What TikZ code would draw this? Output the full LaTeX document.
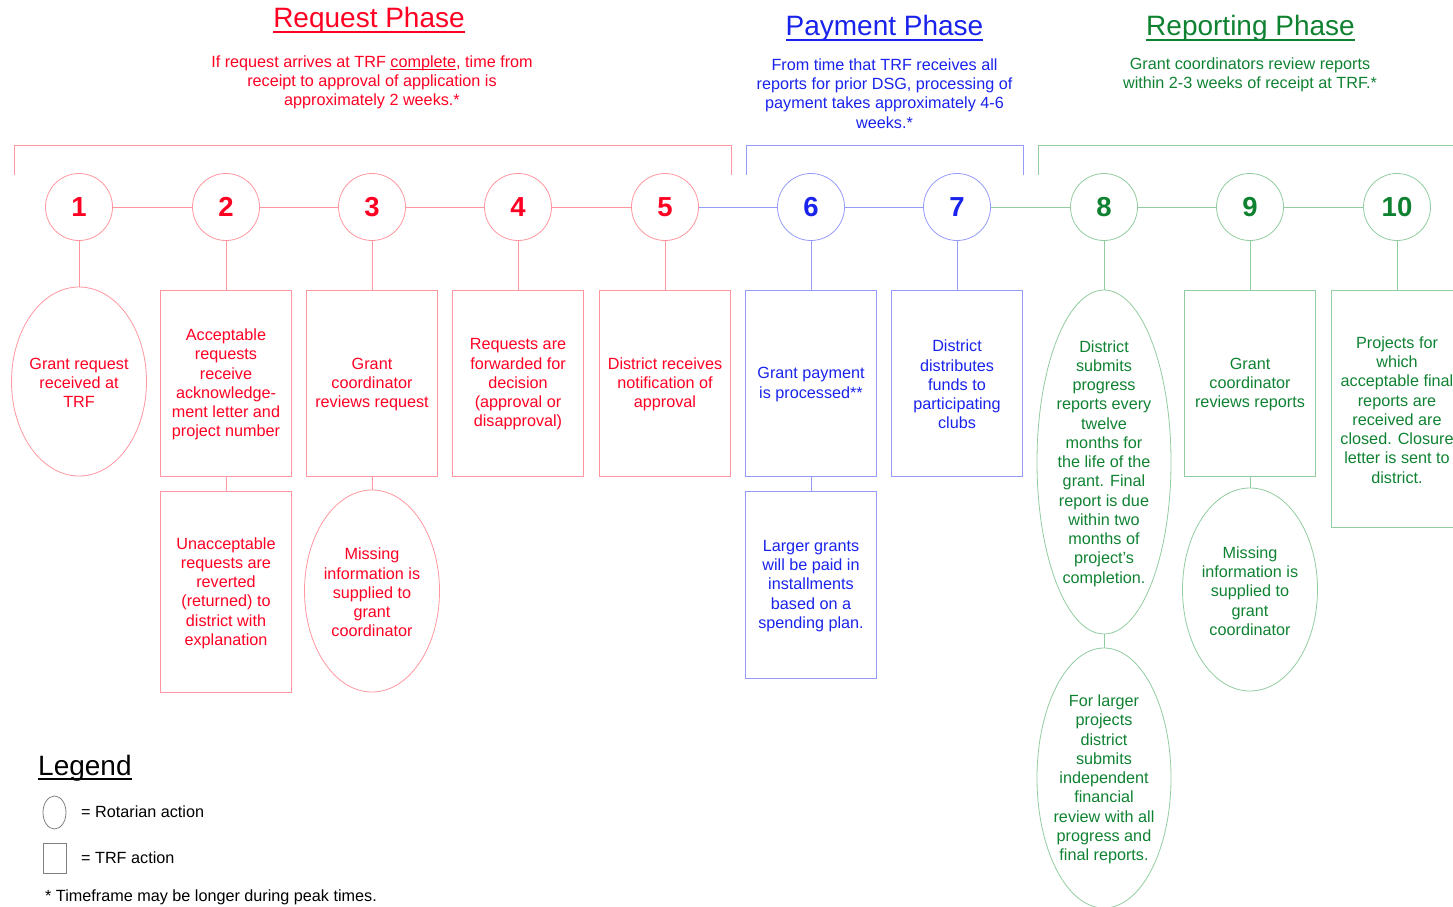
\documentclass[tikz,border=0pt]{standalone}
\usepackage{fontspec}
\setmainfont{Liberation Sans}
\usetikzlibrary{shapes.geometric}
\newcommand\myul[1]{\setbox0=\hbox{#1}\leavevmode\rlap{\vrule height -0.1em depth 0.17em width \wd0}\box0}
\definecolor{rtxt}{RGB}{255,0,35}
\definecolor{rln}{RGB}{255,150,160}
\definecolor{btxt}{RGB}{25,35,235}
\definecolor{bln}{RGB}{150,155,250}
\definecolor{gtxt}{RGB}{15,130,50}
\definecolor{gln}{RGB}{145,205,160}
\tikzset{
  body/.style={font=\fontsize{16.2}{19.25}\selectfont, align=center, inner sep=0pt},
  stxt/.style={body, yshift=-1.5pt},
  numc/.style={circle, draw, fill=white, minimum size=67pt, inner sep=0pt, line width=0.8pt, font=\fontsize{27.5}{30}\selectfont\bfseries},
  trfbox/.style={rectangle, draw, line width=0.8pt, inner sep=0pt, minimum width=131pt},
  rotell/.style={ellipse, draw, line width=0.8pt, inner sep=0pt},
  ttl/.style={font=\fontsize{28}{32}\selectfont, inner sep=0pt, anchor=base},
  conn/.style={line width=0.8pt},
}
\begin{document}
\begin{tikzpicture}[x=1pt,y=-1pt]
\useasboundingbox (0,0) rectangle (1453,907);

% titles
\node[ttl, text=rtxt] (t1) at (369,28) {\myul{Request Phase}};
\node[ttl, text=btxt] (t2) at (884.5,36) {\myul{Payment Phase}};
\node[ttl, text=gtxt] (t3) at (1250.5,36) {\myul{Reporting Phase}};

\node[stxt, text=rtxt] (d1) at (372,81) {If request arrives at TRF \myul{complete}, time from\\receipt to approval of application is\\approximately 2 weeks.*};
\node[stxt, text=btxt] (d2) at (884.5,92) {From time that TRF receives all\\reports for prior DSG, processing of\\payment takes approximately 4-6\\weeks.*};
\node[stxt, text=gtxt] (d3) at (1250,73) {Grant coordinators review reports\\within 2-3 weeks of receipt at TRF.*};

% brackets
\draw[conn, rln] (14,175) -- (14,145) -- (731,145) -- (731,175);
\draw[conn, bln] (746,175) -- (746,145) -- (1023,145) -- (1023,175);
\draw[conn, gln] (1038,175) -- (1038,145) -- (1460,145);

% circles
\node[numc, draw=rln, text=rtxt] (c1) at (79,207) {1};
\node[numc, draw=rln, text=rtxt] (c2) at (226,207) {2};
\node[numc, draw=rln, text=rtxt] (c3) at (372,207) {3};
\node[numc, draw=rln, text=rtxt] (c4) at (518,207) {4};
\node[numc, draw=rln, text=rtxt] (c5) at (665,207) {5};
\node[numc, draw=bln, text=btxt] (c6) at (811,207) {6};
\node[numc, draw=bln, text=btxt] (c7) at (957,207) {7};
\node[numc, draw=gln, text=gtxt] (c8) at (1104,207) {8};
\node[numc, draw=gln, text=gtxt] (c9) at (1250,207) {9};
\node[numc, draw=gln, text=gtxt] (c10) at (1397,207) {10};

% row 1 shapes
\node[rotell, draw=rln, minimum width=135pt, minimum height=189pt] (s1) at (79,381.5) {};
\node[stxt, text=rtxt] (s1t) at (s1) {Grant request\\received at\\TRF};
\node[trfbox, draw=rln, minimum height=186pt] (s2) at (226,383) {};
\node[stxt, text=rtxt] (s2t) at (s2) {Acceptable\\requests\\receive\\acknowledge-\\ment letter and\\project number};
\node[trfbox, draw=rln, minimum height=186pt] (s3) at (372,383) {};
\node[stxt, text=rtxt] (s3t) at (s3) {Grant\\coordinator\\reviews request};
\node[trfbox, draw=rln, minimum height=186pt] (s4) at (518,383) {};
\node[stxt, text=rtxt] (s4t) at (s4) {Requests are\\forwarded for\\decision\\(approval or\\disapproval)};
\node[trfbox, draw=rln, minimum height=186pt] (s5) at (665,383) {};
\node[stxt, text=rtxt] (s5t) at (s5) {District receives\\notification of\\approval};
\node[trfbox, draw=bln, minimum height=186pt] (s6) at (811,383) {};
\node[stxt, text=btxt] (s6t) at (s6) {Grant payment\\is processed**};
\node[trfbox, draw=bln, minimum height=186pt] (s7) at (957,383) {};
\node[stxt, text=btxt] (s7t) at (s7) {District\\distributes\\funds to\\participating\\clubs};
\node[rotell, draw=gln, minimum width=134pt, minimum height=344pt] (s8) at (1104,462) {};
\node[stxt, text=gtxt] (s8t) at (s8) {District\\submits\\progress\\reports every\\twelve\\months for\\the life of the\\grant. Final\\report is due\\within two\\months of\\project's\\completion.};
\node[trfbox, draw=gln, minimum height=186pt] (s9) at (1250,383) {};
\node[stxt, text=gtxt] (s9t) at (s9) {Grant\\coordinator\\reviews reports};
\node[trfbox, draw=gln, minimum height=237pt] (s10) at (1397,408.5) {};
\node[stxt, text=gtxt] (s10t) at (s10) {Projects for\\which\\acceptable final\\reports are\\received are\\closed. Closure\\letter is sent to\\district.};

% row 2 shapes
\node[trfbox, draw=rln, minimum height=201pt] (u2) at (226,591.5) {};
\node[stxt, text=rtxt] (u2t) at (u2) {Unacceptable\\requests are\\reverted\\(returned) to\\district with\\explanation};
\node[rotell, draw=rln, minimum width=135pt, minimum height=202pt] (u3) at (372,591) {};
\node[stxt, text=rtxt] (u3t) at (u3) {Missing\\information is\\supplied to\\grant\\coordinator};
\node[trfbox, draw=bln, minimum height=187pt] (u6) at (811,584.5) {};
\node[stxt, text=btxt] (u6t) at (u6) {Larger grants\\will be paid in\\installments\\based on a\\spending plan.};
\node[rotell, draw=gln, minimum width=134pt, minimum height=260pt] (u8) at (1104,778) {};
\node[stxt, text=gtxt] (u8t) at (u8) {For larger\\projects\\district\\submits\\independent\\financial\\review with all\\progress and\\final reports.};
\node[rotell, draw=gln, minimum width=135pt, minimum height=203pt] (u9) at (1250,589.5) {};
\node[stxt, text=gtxt] (u9t) at (u9) {Missing\\information is\\supplied to\\grant\\coordinator};

% horizontal connectors
\draw[conn, rln] (c1) -- (c2);
\draw[conn, rln] (c2) -- (c3);
\draw[conn, rln] (c3) -- (c4);
\draw[conn, rln] (c4) -- (c5);
\draw[conn, bln] (c5) -- (c6);
\draw[conn, bln] (c6) -- (c7);
\draw[conn, gln] (c7) -- (c8);
\draw[conn, gln] (c8) -- (c9);
\draw[conn, gln] (c9) -- (c10);

% vertical connectors
\draw[conn, rln] (c1) -- (s1);
\draw[conn, rln] (c2) -- (s2);
\draw[conn, rln] (c3) -- (s3);
\draw[conn, rln] (c4) -- (s4);
\draw[conn, rln] (c5) -- (s5);
\draw[conn, bln] (c6) -- (s6);
\draw[conn, bln] (c7) -- (s7);
\draw[conn, gln] (c8) -- (s8);
\draw[conn, gln] (c9) -- (s9);
\draw[conn, gln] (c10) -- (s10);
\draw[conn, rln] (s2) -- (u2);
\draw[conn, rln] (s3) -- (u3);
\draw[conn, bln] (s6) -- (u6);
\draw[conn, gln] (s8) -- (u8);
\draw[conn, gln] (s9) -- (u9);

% legend
\node[ttl, anchor=base west] (lg) at (38,775) {\myul{Legend}};
\node[rotell, draw=gray, minimum width=23pt, minimum height=33pt] (le) at (54.5,812.5) {};
\node[body, anchor=base west] (lt1) at (81,817) {= Rotarian action};
\node[trfbox, draw=gray, minimum width=23pt, minimum height=30pt] (lb) at (54.5,858) {};
\node[body, anchor=base west] (lt2) at (81,863) {= TRF action};
\node[body, anchor=base west] (fn) at (45,901) {* Timeframe may be longer during peak times.};
\end{tikzpicture}
\end{document}
